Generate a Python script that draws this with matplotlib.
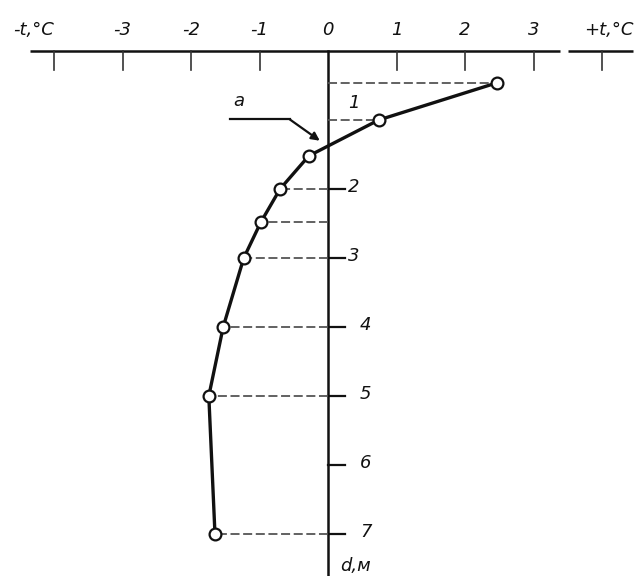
import matplotlib.pyplot as plt

# temperature profile (t, degC) against depth (d, m)
temps = [2.47, 0.74, -0.28, -0.70, -0.98, -1.23, -1.53, -1.74, -1.65]
depths = [0.46, 1.00, 1.52, 2.00, 2.48, 3.00, 4.00, 5.00, 7.00]
dashed_idx = [0, 1, 3, 4, 5, 6, 7, 8]

top_ticks = [-4, -3, -2, -1, 0, 1, 2, 3, 4]
top_labels = ["", "-3", "-2", "-1", "0", "1", "2", "3", ""]
depth_ticks = [2, 3, 4, 5, 6, 7]
depth_labels = ["1", "2", "3", "4", "5", "6", "7"]

fig = plt.figure(figsize=(6.35, 5.76), dpi=100)
ax = fig.add_axes([0, 0, 1, 1])
# 68.5 px per degree, 0 at x=328 px; 69 px per metre, 0 at y=51 px
ax.set_xlim(-328 / 68.5, (635 - 328) / 68.5)
ax.set_ylim((576 - 51) / 69, -51 / 69)
ax.axis("off")

ink = "#111111"
txt = dict(color=ink, fontsize=13, style="italic", family="DejaVu Sans")

# top temperature axis (with a small gap before the +t unit tick)
ax.plot([-4.35, 3.38], [0, 0], color=ink, lw=1.8, solid_capstyle="butt")
ax.plot([3.5, 4.45], [0, 0], color=ink, lw=1.8, solid_capstyle="butt")
for t, lab in zip(top_ticks, top_labels):
    if t != 0:
        ax.plot([t, t], [0, 0.27], color="#333333", lw=1.2)
    if lab:
        ax.text(t, -0.3, lab, ha="center", va="center", **txt)
ax.text(-4.3, -0.3, "-t,°C", ha="center", va="center", **txt)
ax.text(4.1, -0.3, "+t,°C", ha="center", va="center", **txt)

# vertical depth axis
ax.plot([0, 0], [0, 7.7], color=ink, lw=1.8)
for d in depth_ticks:
    ax.plot([0, 0.25], [d, d], color=ink, lw=1.6)
for i, lab in enumerate(depth_labels):
    d = i + 1
    x = 0.38 if d <= 3 else 0.55
    y = d - 0.25 if d == 1 else d - 0.03
    ax.text(x, y, lab, ha="center", va="center", **txt)
ax.text(0.4, 7.47, "d,м", ha="center", va="center", **txt)

# dashed projections to the axis
for i in dashed_idx:
    ax.plot([0, temps[i]], [depths[i], depths[i]], color="#555555", lw=1.3,
            ls=(0, (5, 2)))

ax.plot(temps, depths, color=ink, lw=2.4, marker="o", ms=8.5,
        mfc="white", mec=ink, mew=1.6, zorder=3)

# label "a" with leader line
ax.text(-1.3, 0.72, "a", ha="center", va="center", **txt)
ax.plot([-1.43, -0.55], [0.99, 0.99], color=ink, lw=1.6)
ax.annotate("", xy=(-0.12, 1.3), xytext=(-0.56, 0.99),
            arrowprops=dict(arrowstyle="-|>", color=ink, lw=1.6,
                            mutation_scale=12, shrinkA=0, shrinkB=0))

fig.savefig("out.png", dpi=100)
